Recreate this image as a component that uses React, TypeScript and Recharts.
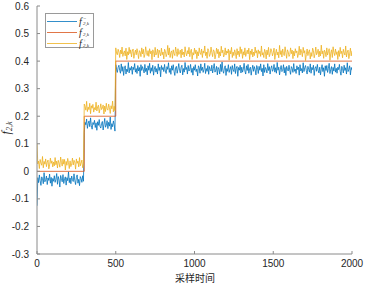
import React from 'react';
import { LineChart, Line, XAxis, YAxis, Legend, Label } from 'recharts';

const BLUE = '#0072BD';
const RED = '#D95319';
const YELLOW = '#EDB120';
const AXIS = '#262626';
const AXIS_LINE = '#8a8a8a';

// sample index spacing of the stored points
const sampleStep = 5;

const xTicks = [0, 500, 1000, 1500, 2000];
const yTicks = [-0.3, -0.2, -0.1, 0, 0.1, 0.2, 0.3, 0.4, 0.5, 0.6];

const xLabel = '采样时间';
const legendSup = ['−', '', '+'];
const legendSub = '2,k';

// f^-_{2,k}
const blueValues = [
  -0.125,
  -0.023, -0.041, -0.013, -0.034, -0.051, -0.020, -0.027, -0.045, -0.005, -0.038, -0.030, -0.017, -0.048, -0.024, -0.033, -0.010, -0.043, -0.022, -0.054, -0.026,
  -0.036, -0.016, -0.040, -0.029, -0.008, -0.047, -0.019, -0.031, -0.057, -0.015, -0.026, -0.038, -0.012, -0.044, -0.027, -0.020, -0.050, -0.023, -0.034, -0.002,
  -0.041, -0.024, -0.045, -0.017, -0.030, -0.037, -0.009, -0.033, -0.048, -0.022, -0.013, -0.043, -0.029, -0.052, -0.019, -0.026, -0.040, -0.016, -0.036,
  0.142,
  0.178, 0.169, 0.190, 0.156, 0.173, 0.183, 0.162, 0.194, 0.166, 0.153, 0.177, 0.170, 0.185, 0.159, 0.176, 0.149, 0.180, 0.167, 0.188, 0.163,
  0.157, 0.174, 0.181, 0.150, 0.171, 0.192, 0.160, 0.167, 0.184, 0.155, 0.178, 0.164, 0.197, 0.152, 0.173, 0.162, 0.183, 0.169, 0.146,
  0.387,
  0.370, 0.359, 0.377, 0.385, 0.366, 0.356, 0.390, 0.363, 0.380, 0.348, 0.374, 0.383, 0.353, 0.371, 0.362, 0.395, 0.357, 0.376, 0.367, 0.381,
  0.352, 0.378, 0.369, 0.391, 0.360, 0.373, 0.355, 0.384, 0.364, 0.377, 0.345, 0.387, 0.366, 0.380, 0.370, 0.357, 0.388, 0.362, 0.374, 0.350,
  0.383, 0.367, 0.392, 0.356, 0.376, 0.363, 0.385, 0.349, 0.371, 0.381, 0.360, 0.373, 0.353, 0.390, 0.366, 0.378, 0.343, 0.384, 0.369, 0.377,
  0.362, 0.388, 0.364, 0.355, 0.380, 0.370, 0.394, 0.359, 0.374, 0.352, 0.383, 0.367, 0.387, 0.363, 0.348, 0.376, 0.381, 0.356, 0.371, 0.391,
  0.366, 0.357, 0.378, 0.385, 0.350, 0.373, 0.360, 0.395, 0.369, 0.377, 0.353, 0.384, 0.364, 0.370, 0.388, 0.359, 0.374, 0.349, 0.380, 0.367,
  0.387, 0.362, 0.371, 0.346, 0.383, 0.376, 0.356, 0.390, 0.366, 0.378, 0.359, 0.370, 0.392, 0.355, 0.373, 0.363, 0.384, 0.352, 0.380, 0.369,
  0.364, 0.385, 0.357, 0.374, 0.391, 0.360, 0.367, 0.381, 0.350, 0.377, 0.371, 0.353, 0.388, 0.362, 0.397, 0.366, 0.356, 0.376, 0.383, 0.348,
  0.373, 0.363, 0.387, 0.359, 0.370, 0.380, 0.352, 0.384, 0.369, 0.362, 0.390, 0.355, 0.374, 0.381, 0.345, 0.377, 0.367, 0.385, 0.357, 0.378,
  0.360, 0.371, 0.392, 0.364, 0.353, 0.383, 0.366, 0.388, 0.356, 0.373, 0.378, 0.349, 0.370, 0.385, 0.363, 0.380, 0.369, 0.350, 0.384, 0.376,
  0.355, 0.381, 0.367, 0.390, 0.362, 0.374, 0.346, 0.387, 0.359, 0.377, 0.370, 0.357, 0.391, 0.366, 0.380, 0.353, 0.373, 0.383, 0.363, 0.369,
  0.388, 0.360, 0.376, 0.356, 0.395, 0.367, 0.378, 0.350, 0.371, 0.384, 0.362, 0.366, 0.387, 0.357, 0.377, 0.348, 0.381, 0.370, 0.364, 0.385,
  0.367, 0.352, 0.380, 0.374, 0.359, 0.391, 0.363, 0.371, 0.355, 0.383, 0.369, 0.378, 0.349, 0.387, 0.364, 0.373, 0.357, 0.394, 0.362, 0.376,
  0.384, 0.366, 0.353, 0.381, 0.370, 0.360, 0.390, 0.356, 0.377, 0.369, 0.385, 0.348, 0.374, 0.380, 0.363, 0.388, 0.367, 0.357, 0.378, 0.350,
  0.371, 0.387, 0.362, 0.376, 0.345, 0.383, 0.366, 0.384, 0.359, 0.373, 0.392, 0.355, 0.370, 0.380, 0.352, 0.377, 0.364, 0.390, 0.360, 0.374,
  0.356, 0.378, 0.369, 0.388, 0.363, 0.349, 0.381, 0.373, 0.357, 0.385, 0.366, 0.376, 0.353, 0.394, 0.362, 0.370, 0.383, 0.350, 0.377, 0.367,
];

// f^+_{2,k}
const yellowValues = [
  0.100,
  0.027, 0.037, 0.010, 0.043, 0.030, 0.022, 0.054, 0.013, 0.036, 0.026, 0.045, 0.017, 0.033, 0.041, 0.009, 0.023, 0.048, 0.029, 0.038, 0.016,
  0.034, 0.020, 0.050, 0.024, 0.037, 0.012, 0.040, 0.030, 0.015, 0.052, 0.033, 0.019, 0.044, 0.026, 0.043, 0.005, 0.036, 0.022, 0.047, 0.031,
  0.010, 0.038, 0.017, 0.027, 0.048, 0.023, 0.040, 0.034, 0.008, 0.045, 0.029, 0.037, 0.016, 0.050, 0.020, 0.030, 0.041, 0.013, 0.026,
  0.244,
  0.236, 0.222, 0.254, 0.217, 0.233, 0.224, 0.247, 0.209, 0.238, 0.229, 0.243, 0.215, 0.231, 0.223, 0.251, 0.219, 0.234, 0.240, 0.212, 0.227,
  0.245, 0.224, 0.230, 0.241, 0.208, 0.237, 0.217, 0.247, 0.226, 0.222, 0.244, 0.231, 0.210, 0.238, 0.227, 0.255, 0.216, 0.236, 0.220,
  0.448,
  0.429, 0.423, 0.443, 0.433, 0.413, 0.440, 0.426, 0.451, 0.417, 0.430, 0.437, 0.419, 0.447, 0.406, 0.434, 0.422, 0.450, 0.427, 0.441, 0.415,
  0.436, 0.444, 0.410, 0.429, 0.440, 0.423, 0.445, 0.430, 0.409, 0.438, 0.433, 0.416, 0.448, 0.426, 0.443, 0.413, 0.424, 0.452, 0.431, 0.420,
  0.438, 0.417, 0.445, 0.427, 0.437, 0.405, 0.441, 0.434, 0.415, 0.450, 0.422, 0.429, 0.444, 0.412, 0.440, 0.430, 0.419, 0.447, 0.423, 0.433,
  0.408, 0.443, 0.436, 0.416, 0.426, 0.457, 0.422, 0.448, 0.413, 0.431, 0.437, 0.410, 0.441, 0.427, 0.420, 0.451, 0.434, 0.417, 0.445, 0.424,
  0.429, 0.440, 0.412, 0.444, 0.423, 0.433, 0.415, 0.452, 0.430, 0.419, 0.438, 0.426, 0.450, 0.416, 0.436, 0.443, 0.406, 0.431, 0.422, 0.447,
  0.427, 0.440, 0.409, 0.434, 0.419, 0.448, 0.430, 0.424, 0.444, 0.413, 0.437, 0.429, 0.455, 0.420, 0.433, 0.410, 0.445, 0.438, 0.417, 0.426,
  0.451, 0.431, 0.416, 0.441, 0.436, 0.408, 0.423, 0.447, 0.427, 0.443, 0.412, 0.434, 0.419, 0.454, 0.430, 0.440, 0.415, 0.424, 0.448, 0.422,
  0.437, 0.429, 0.444, 0.403, 0.438, 0.426, 0.450, 0.413, 0.433, 0.420, 0.441, 0.431, 0.409, 0.445, 0.423, 0.436, 0.416, 0.452, 0.427, 0.443,
  0.410, 0.434, 0.422, 0.448, 0.417, 0.430, 0.440, 0.426, 0.447, 0.405, 0.437, 0.424, 0.444, 0.415, 0.433, 0.420, 0.451, 0.429, 0.438, 0.412,
  0.441, 0.427, 0.436, 0.417, 0.455, 0.422, 0.431, 0.413, 0.443, 0.434, 0.408, 0.440, 0.423, 0.450, 0.416, 0.426, 0.445, 0.437, 0.419, 0.430,
  0.447, 0.406, 0.429, 0.443, 0.422, 0.433, 0.412, 0.457, 0.424, 0.438, 0.415, 0.444, 0.427, 0.420, 0.452, 0.431, 0.410, 0.441, 0.434, 0.417,
  0.423, 0.448, 0.427, 0.440, 0.409, 0.436, 0.419, 0.445, 0.430, 0.437, 0.413, 0.426, 0.454, 0.422, 0.443, 0.433, 0.416, 0.450, 0.429, 0.438,
  0.402, 0.424, 0.444, 0.420, 0.434, 0.441, 0.408, 0.431, 0.417, 0.447, 0.438, 0.412, 0.427, 0.451, 0.423, 0.430, 0.443, 0.415, 0.436, 0.419,
  0.458, 0.426, 0.437, 0.410, 0.440, 0.433, 0.416, 0.448, 0.422, 0.434, 0.445, 0.403, 0.429, 0.441, 0.413, 0.452, 0.431, 0.420, 0.444, 0.424,
  0.434, 0.406, 0.438, 0.417, 0.450, 0.427, 0.436, 0.412, 0.443, 0.430, 0.422, 0.455, 0.415, 0.433, 0.440, 0.409, 0.426, 0.447, 0.419, 0.437,
];

// f_{2,k} reference (step signal)
const refK = [0, 300, 300, 500, 500, 2000];
const refValues = [0, 0, 0.2, 0.2, 0.4, 0.4];

const signalData = blueValues.map((b, i) => ({ k: i * sampleStep, blue: b, yellow: yellowValues[i] }));
const refData = refK.map((k, i) => ({ k, ref: refValues[i] }));

const legendColors = [BLUE, RED, YELLOW];

const tickStyle = { fill: AXIS, fontSize: 10, fontFamily: '"Liberation Sans", Arial, Helvetica, sans-serif' };

const fmtY = (v: number) => String(Math.round(v * 10) / 10);

const serif = '"Liberation Serif", "Times New Roman", serif';

const smallText = {
  position: 'absolute' as const,
  left: 37,
  fontFamily: serif,
  fontStyle: 'italic' as const,
  fontSize: 5,
  lineHeight: '5px',
  color: AXIS,
  whiteSpace: 'nowrap' as const,
};

const LegendBox = () => (
  <div
    style={{
      width: 49,
      height: 35,
      boxSizing: 'border-box',
      border: '1px solid #9a9a9a',
      background: '#fff',
      paddingTop: 2,
    }}
  >
    {legendColors.map((c, i) => (
      <div key={i} style={{ position: 'relative', height: 11 }}>
        <svg width={32} height={11} style={{ position: 'absolute', left: 0, top: 0 }}>
          <line x1={1} x2={31} y1={5.5} y2={5.5} stroke={c} strokeWidth={0.8} />
        </svg>
        <span
          style={{
            position: 'absolute',
            left: 33,
            top: 0,
            fontFamily: serif,
            fontStyle: 'italic',
            fontSize: 10,
            lineHeight: '11px',
            color: AXIS,
          }}
        >
          f
        </span>
        {legendSup[i] ? <span style={{ ...smallText, top: -0.5 }}>{legendSup[i]}</span> : null}
        <span style={{ ...smallText, top: 5 }}>{legendSub}</span>
      </div>
    ))}
  </div>
);

const YLabelContent = () => (
  <text
    transform="rotate(-90 10 128)"
    x={10}
    y={128}
    textAnchor="middle"
    fill={AXIS}
    fontFamily={serif}
    fontStyle="italic"
    fontSize={12}
  >
    f
    <tspan fontSize={8} dy={2}>
      {legendSub}
    </tspan>
  </text>
);

const XLabelContent = () => (
  <text
    x={195}
    y={282}
    textAnchor="middle"
    fill={AXIS}
    fontFamily='"Noto Sans CJK SC", sans-serif'
    fontSize={10}
  >
    {xLabel}
  </text>
);

export default function App() {
  return (
    <div style={{ position: 'absolute', left: 0, top: 0, width: 365, height: 288, background: '#fff' }}>
      <LineChart width={365} height={288} margin={{ top: 6, right: 13, bottom: 4, left: 7 }}>
        <XAxis
          xAxisId={0}
          dataKey="k"
          type="number"
          domain={[0, 2000]}
          ticks={xTicks}
          interval={0}
          height={30}
          tickSize={-3}
          tickMargin={9}
          tick={tickStyle}
          stroke={AXIS_LINE}
          axisLine={{ stroke: AXIS_LINE }}
          tickLine={{ stroke: AXIS_LINE }}
          allowDataOverflow
        >
          <Label content={XLabelContent} />
        </XAxis>
        <XAxis
          xAxisId="top"
          orientation="top"
          dataKey="k"
          type="number"
          domain={[0, 2000]}
          ticks={xTicks}
          interval={0}
          height={0}
          tickSize={-3}
          tick={false}
          axisLine={{ stroke: AXIS_LINE }}
          tickLine={{ stroke: AXIS_LINE }}
          allowDataOverflow
        />
        <YAxis
          yAxisId={0}
          type="number"
          domain={[-0.3, 0.6]}
          ticks={yTicks}
          interval={0}
          width={30}
          tickSize={-3}
          tickMargin={11}
          tick={tickStyle}
          tickFormatter={fmtY}
          axisLine={{ stroke: AXIS_LINE }}
          tickLine={{ stroke: AXIS_LINE }}
          allowDataOverflow
        >
          <Label content={YLabelContent} />
        </YAxis>
        <YAxis
          yAxisId="right"
          orientation="right"
          type="number"
          domain={[-0.3, 0.6]}
          ticks={yTicks}
          interval={0}
          width={0}
          tickSize={-3}
          tick={false}
          axisLine={{ stroke: AXIS_LINE }}
          tickLine={{ stroke: AXIS_LINE }}
          allowDataOverflow
        />
        <Legend
          layout="vertical"
          align="center"
          verticalAlign="middle"
          content={LegendBox}
          wrapperStyle={{ left: 45, top: 13, width: 49, height: 35 }}
        />
        <Line
          data={signalData}
          dataKey="blue"
          xAxisId={0}
          yAxisId={0}
          type="linear"
          stroke={BLUE}
          strokeWidth={0.8}
          dot={false}
          activeDot={false}
          isAnimationActive={false}
        />
        <Line
          data={refData}
          dataKey="ref"
          xAxisId={0}
          yAxisId={0}
          type="linear"
          stroke={RED}
          strokeWidth={0.8}
          dot={false}
          activeDot={false}
          isAnimationActive={false}
        />
        <Line
          data={signalData}
          dataKey="yellow"
          xAxisId={0}
          yAxisId={0}
          type="linear"
          stroke={YELLOW}
          strokeWidth={0.8}
          dot={false}
          activeDot={false}
          isAnimationActive={false}
        />
      </LineChart>
    </div>
  );
}
